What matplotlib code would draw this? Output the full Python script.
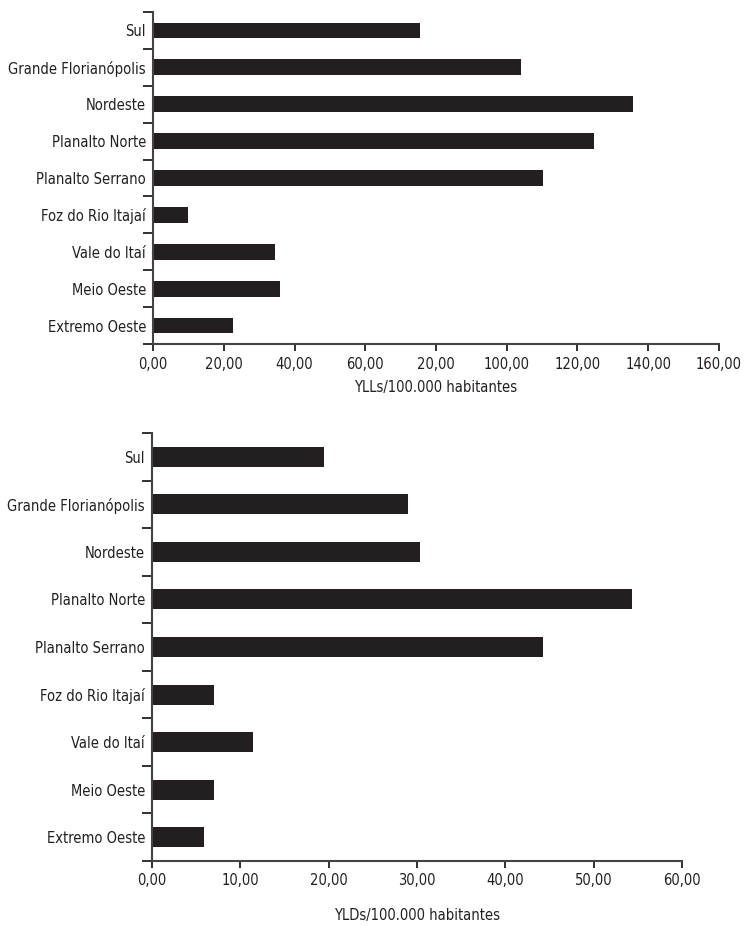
import numpy as np
import matplotlib
matplotlib.use("Agg")
import matplotlib.pyplot as plt

regioes = ["Sul", "Grande Florianópolis", "Nordeste", "Planalto Norte",
           "Planalto Serrano", "Foz do Rio Itajaí", "Vale do Itaí",
           "Meio Oeste", "Extremo Oeste"]

ylls = [75.6, 103.9, 135.8, 124.8, 110.2, 9.8, 34.6, 36.0, 22.6]
ylds = [19.5, 29.0, 30.3, 54.3, 44.3, 7.0, 11.4, 7.0, 5.9]

ticks_ylls = [0, 20, 40, 60, 80, 100, 120, 140, 160]
# o original traz "20,00" no lugar de "80,00"
labels_ylls = ["0,00", "20,00", "40,00", "60,00", "20,00", "100,00",
               "120,00", "140,00", "160,00"]
ticks_ylds = [0, 10, 20, 30, 40, 50, 60]
labels_ylds = ["0,00", "10,00", "20,00", "30,00", "40,00", "50,00", "60,00"]

cor = "#231f20"
plt.rcParams['font.family'] = ['DejaVu Sans']
plt.rcParams['font.stretch'] = 'condensed'

fig = plt.figure(figsize=(7.46, 9.26), dpi=100)
ax1 = fig.add_axes([0.2051, 0.6285, 0.7587, 0.3585])
ax2 = fig.add_axes([0.2038, 0.0702, 0.7105, 0.4622])


def desenha(ax, vals, ticks, labels, xlabel, altura, labpad):
    n = len(regioes)
    y = np.arange(n)
    ax.barh(y, vals, height=altura, color=cor)
    ax.set_ylim(n - 0.5, -0.5)
    ax.set_xlim(ticks[0], ticks[-1])
    ax.set_yticks(y)
    ax.set_yticklabels(regioes, fontsize=10.5, color=cor)
    ax.set_yticks(np.arange(n + 1) - 0.5, minor=True)
    ax.tick_params(axis='y', which='major', length=0, pad=5)
    ax.tick_params(axis='y', which='minor', length=7, width=1.3, color=cor)
    ax.set_xticks(ticks)
    ax.set_xticklabels(labels, fontsize=10.5, color=cor)
    ax.tick_params(axis='x', length=5, width=1.3, color=cor, pad=4)
    ax.set_xlabel(xlabel, fontsize=10.5, color=cor, labelpad=labpad)
    for s in ['top', 'right']:
        ax.spines[s].set_visible(False)
    for s in ['left', 'bottom']:
        ax.spines[s].set_linewidth(1.5)
        ax.spines[s].set_color("#444444")


desenha(ax1, ylls, ticks_ylls, labels_ylls, "YLLs/100.000 habitantes", 0.43, 6)
desenha(ax2, ylds, ticks_ylds, labels_ylds, "YLDs/100.000 habitantes", 0.42, 14)

fig.savefig("out.png", dpi=100)
